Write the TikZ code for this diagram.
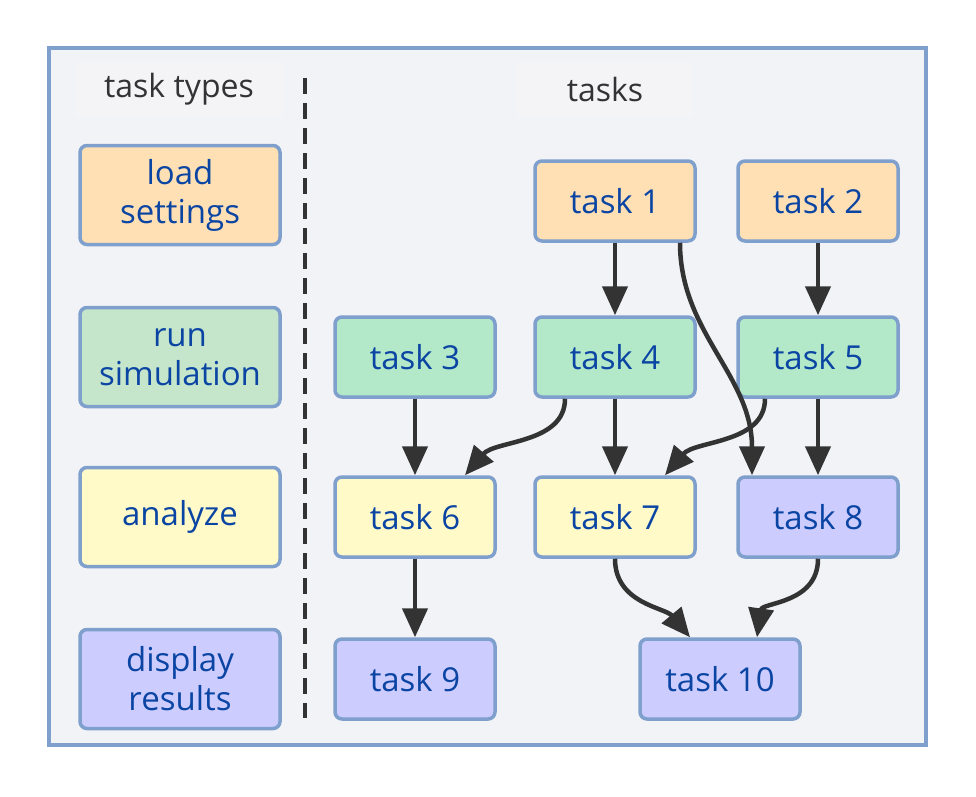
\documentclass[tikz,border=0pt]{standalone}
\usepackage{fontspec}
\setmainfont{Open Sans}
\usetikzlibrary{arrows.meta}
\definecolor{frame}{HTML}{7F9FCC}
\definecolor{bg}{HTML}{F2F3F7}
\definecolor{hdr}{HTML}{F4F4F6}
\definecolor{peach}{HTML}{FFE0B4}
\definecolor{greenL}{HTML}{C6E6CB}
\definecolor{greenT}{HTML}{B3E8C9}
\definecolor{yell}{HTML}{FFFAC8}
\definecolor{viol}{HTML}{CCCCFF}
\definecolor{txt}{HTML}{0B45A3}
\definecolor{dark}{HTML}{333333}
\tikzset{
  box/.style={draw=frame, line width=3.5pt, rounded corners=7pt, text=txt,
    font=\fontsize{33}{39}\selectfont, align=center, inner sep=0pt},
  typebox/.style={box, minimum width=200pt, minimum height=99pt},
  taskbox/.style={box, minimum width=160pt, minimum height=80pt},
  hdrbox/.style={fill=hdr, draw=none, text=dark, font=\fontsize{32}{38}\selectfont, inner sep=0pt},
  conn/.style={draw=dark, line width=4.5pt, -{Triangle[length=29pt,width=25pt]}},
}
\begin{document}
\begin{tikzpicture}[x=1pt,y=-1pt]
\useasboundingbox (0,0) rectangle (976,796);
\draw[frame, fill=bg, line width=3.5pt] (49,48) rectangle (926,745);
\node[hdrbox, minimum width=208pt, minimum height=55pt] (hTypes) at (179,89) {\raisebox{-2pt}{task types}};
\node[hdrbox, minimum width=176pt, minimum height=55pt] (hTasks) at (605,89) {tasks};
\coordinate (dTop) at (305,78);
\coordinate (dBot) at (305,718);
\draw[dark, line width=3.5pt, dash pattern=on 16pt off 9pt] (dTop) -- (dBot);
% type legend
\node[typebox, fill=peach] (tLoad) at (180,195) {load\\settings};
\node[typebox, fill=greenL] (tRun) at (180,357) {run\\simulation};
\node[typebox, fill=yell] (tAna) at (180,517) {analyze};
\node[typebox, fill=viol] (tDisp) at (180,679) {display\\results};
% tasks
\node[taskbox, fill=peach] (t1) at (615,201) {task 1};
\node[taskbox, fill=peach] (t2) at (818,201) {task 2};
\node[taskbox, fill=greenT] (t3) at (415,357) {task 3};
\node[taskbox, fill=greenT] (t4) at (615,357) {task 4};
\node[taskbox, fill=greenT] (t5) at (818,357) {task 5};
\node[taskbox, fill=yell] (t6) at (415,517) {task 6};
\node[taskbox, fill=yell] (t7) at (615,517) {task 7};
\node[taskbox, fill=viol] (t8) at (818,517) {task 8};
\node[taskbox, fill=viol] (t9) at (415,679) {task 9};
\node[taskbox, fill=viol] (t10) at (720,679) {task 10};
% connectors
\draw[conn] (t1.south) -- (t4.north);
\draw[conn] (t2.south) -- (t5.north);
\draw[conn] (t3.south) -- (t6.north);
\draw[conn] (t4.south) -- (t7.north);
\draw[conn] (t5.south) -- (t8.north);
\draw[conn] (t6.south) -- (t9.north);
\draw[conn] ([xshift=65pt]t1.south) .. controls +(0,90) and +(0,-100) .. ([xshift=-66pt]t8.north);
\draw[conn] ([xshift=-50pt]t4.south) .. controls +(0,45) and +(30,-35) .. ([xshift=50pt]t6.north);
\draw[conn] ([xshift=-53pt]t5.south) .. controls +(0,45) and +(30,-35) .. ([xshift=50pt]t7.north);
\draw[conn] (t7.south) .. controls +(0,45) and +(-25,-30) .. ([xshift=-30pt]t10.north);
\draw[conn] (t8.south) .. controls +(0,45) and +(5,-35) .. ([xshift=37pt]t10.north);
\end{tikzpicture}
\end{document}
